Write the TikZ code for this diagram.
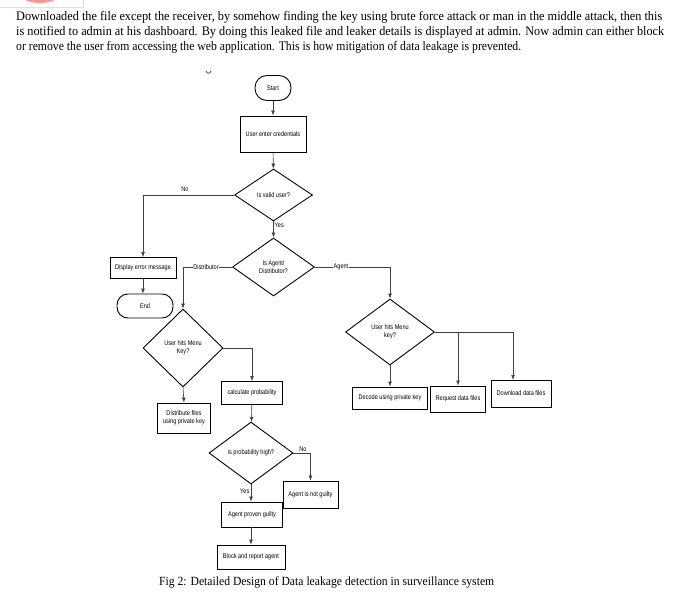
\documentclass[tikz,border=0pt]{standalone}
\usepackage{fontspec}
\usepackage{graphicx}
\setmainfont{Liberation Serif}
\newfontfamily\diagfont[FakeStretch=0.82]{Liberation Sans}
\usetikzlibrary{shapes.geometric,arrows.meta}
\begin{document}
\begin{tikzpicture}[x=1pt,y=-1pt,
  lbl/.style={font=\diagfont\fontsize{6.8}{7.8}\selectfont, align=center, inner sep=0.5pt},
  procbox/.style={lbl, draw=black, line width=0.9pt, minimum width=#1},
  termbox/.style={lbl, draw=black, line width=0.9pt, rounded corners=11pt, minimum height=24pt},
  decision/.style={lbl, draw=black, line width=0.9pt, diamond, aspect=1, inner sep=0pt},
  conn/.style={draw=black!75, line width=0.6pt},
  arr/.style={conn, -{Latex[length=5pt,width=3.8pt]}},
  onlinelbl/.style={lbl, fill=white, inner sep=0.6pt},
  para/.style={font=\fontsize{13}{14}\selectfont, anchor=base west, inner sep=0pt}
]
\useasboundingbox (0,0) rectangle (674,596);
% top remnants
\begin{scope}
\clip (0,0) rectangle (83,7);
\fill[red!45!white!85!pink] (40,-36) circle (39);
\end{scope}
\draw[black!12, line width=0.5pt] (0,7) -- (83,7) -- (83,0);
\draw[black!70, line width=0.8pt] (206,71) .. controls (207,74) and (210,74) .. (211,71);
% paragraph
\node[para] (p1) at (16,21) {\resizebox{646pt}{\height}{Downloaded the file except the receiver, by somehow finding the key using brute force attack or man in the middle attack, then this}};
\node[para] (p2) at (16,36) {\resizebox{648pt}{\height}{is notified to admin at his dashboard. By doing this leaked file and leaker details is displayed at admin. Now admin can either block}};
\node[para] (p3) at (16,51) {\resizebox{505pt}{\height}{or remove the user from accessing the web application. This is how mitigation of data leakage is prevented.}};
% nodes
\node[termbox, minimum width=36pt, minimum height=25pt, rounded corners=12pt] (start) at (273,88) {Start};
\node[procbox=66pt, minimum height=36pt] (cred) at (273,134) {User enter credentials};
\node[decision, minimum width=78pt, minimum height=52pt] (valid) at (273.5,195) {Is valid user?};
\node[procbox=66pt, minimum height=21pt] (err) at (143,268) {Display error message};
\node[termbox, minimum width=56pt] (endn) at (145,306) {End};
\node[decision, minimum width=82pt, minimum height=58pt] (isag) at (273.5,267) {Is Agent/\\Distributor?};
\node[decision, minimum width=80pt, minimum height=78pt] (menuL) at (183,348) {User hits Menu\\Key?};
\node[procbox=61pt, minimum height=23pt] (calc) at (252,393) {calculate probability};
\node[procbox=53pt, minimum height=30pt] (dist) at (184,418) {Distribute files\\using private key};
\node[decision, minimum width=84pt, minimum height=62pt] (prob) at (251,453) {is probability high?};
\node[procbox=55pt, minimum height=27pt] (notg) at (310.5,494.5) {Agent is not guilty};
\node[procbox=61pt, minimum height=25pt] (guilty) at (252,514.5) {Agent proven guilty};
\node[procbox=68pt, minimum height=24pt] (block) at (251,557) {Block and report agent};
\node[decision, minimum width=89pt, minimum height=66pt] (menuR) at (390,332) {User hits Menu\\key?};
\node[procbox=75pt, minimum height=22pt] (decode) at (390,398) {Decode using private key};
\node[procbox=55pt, minimum height=26pt] (request) at (458,399) {Request data files};
\node[procbox=60pt, minimum height=27pt] (download) at (521,393.5) {Download data files};
\coordinate (nocorner) at (143,195);
\coordinate (distcorner) at (183,267);
\coordinate (agcorner) at (390,267);
\coordinate (calccorner) at (252,348);
\coordinate (probcorner) at (310.5,453);
\coordinate (rreq) at (458,332);
\coordinate (rdown) at (513,332);
\coordinate (downtop) at (513,380);
% connectors
\draw[arr] (start) -- (cred);
\draw[arr] (cred) -- (valid);
\draw[arr] (valid.west) -- (nocorner) -- (err.north);
\node[lbl, anchor=south] (nolbl) at (185,192) {No};
\draw[arr] (valid.south) -- (isag.north);
\node[lbl, anchor=west] (yeslbl) at (274,225) {Yes};
\draw[arr] (err.south) -- (err.south |- endn.north);
\draw[arr] (isag.west) -- (distcorner) -- (menuL.north);
\node[onlinelbl] (distlbl) at (206,267) {Distributor};
\draw[arr] (isag.east) -- (agcorner) -- (menuR.north);
\node[onlinelbl] (aglbl) at (341,267) {Agent};
\draw[arr] (menuL.east) -- (calccorner) -- (calc.north);
\draw[arr] (menuL.south) -- (dist.north);
\draw[arr] (calc) -- (prob);
\draw[arr] (prob.east) -- (probcorner) -- (notg.north);
\node[lbl, anchor=south] (nolbl2) at (303,452) {No};
\draw[arr] (prob.south) -- (prob.south |- guilty.north);
\node[lbl, anchor=east] (yeslbl2) at (250,491) {Yes};
\draw[arr] (guilty.south -| prob.south) -- (prob.south |- block.north);
\draw[arr] (menuR.south) -- (decode.north);
\draw[conn] (menuR.east) -- (rdown);
\draw[arr] (rreq) -- (request.north);
\draw[arr] (rdown) -- (downtop);
% caption
\node[para, font=\fontsize{12.5}{14}\selectfont] (cap) at (159,585) {\resizebox{335pt}{\height}{Fig 2: Detailed Design of Data leakage detection in surveillance system}};
\end{tikzpicture}
\end{document}
